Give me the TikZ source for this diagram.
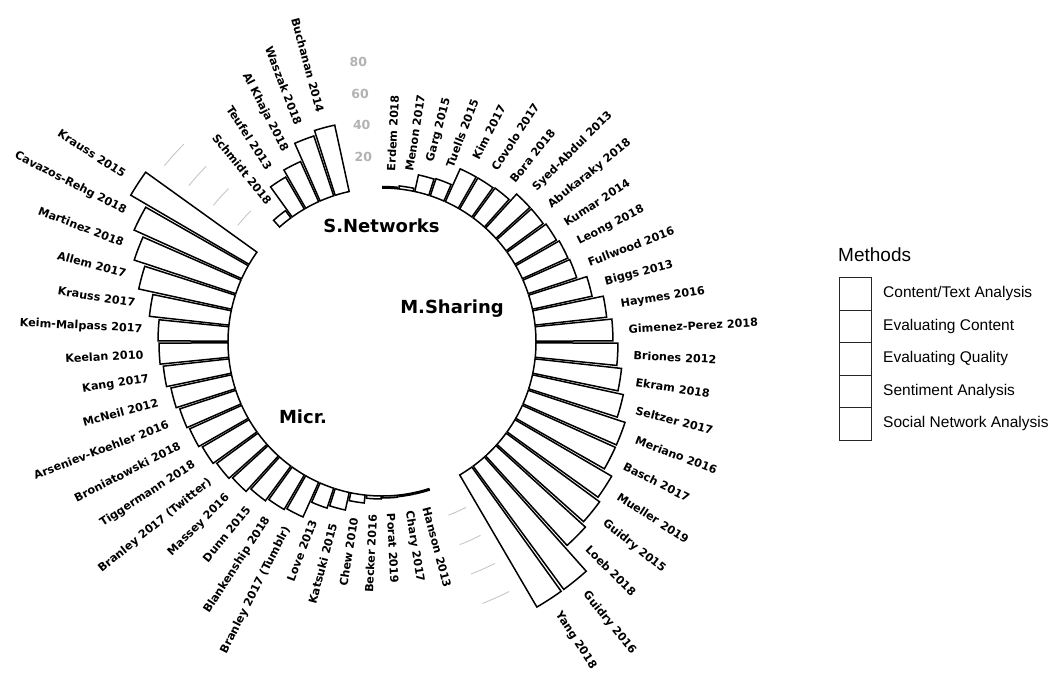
\documentclass[tikz,border=0pt]{standalone}
\usepackage{fontspec}
\newfontfamily\labfont{DejaVu Sans}
\newfontfamily\legfont{Liberation Sans}
\begin{document}
\begin{tikzpicture}[
  bar/.style={draw=black, fill=white, line width=1.5pt},
  lab/.style={font=\labfont\bfseries\fontsize{11.2}{12}\selectfont, inner sep=0pt, text=black},
  grp/.style={font=\labfont\bfseries\fontsize{18}{20}\selectfont, inner sep=0pt},
  val/.style={font=\labfont\bfseries\fontsize{12.5}{14}\selectfont, text=black!30, inner sep=0pt, anchor=east},
  gridln/.style={draw=black!22, line width=0.9pt},
  legbox/.style={draw=black!85, line width=1pt, minimum width=32pt, minimum height=32.5pt, inner sep=0pt, anchor=north west},
  legtxt/.style={font=\legfont\fontsize{15.5}{17}\selectfont, anchor=west, inner sep=0pt}
]
\useasboundingbox (-382pt,-331pt) rectangle (679pt,342pt);
% grid segments and value labels
\foreach \v in {20,40,60,80}{
  \pgfmathsetmacro\gr{154+1.575*\v}
  \draw[gridln] (141:\gr pt) arc[start angle=141, end angle=135, radius=\gr pt];
  \draw[gridln] (-63:\gr pt) arc[start angle=-63, end angle=-69, radius=\gr pt];
  \node[val] (v\v) at (93:\gr pt) {\v};
}
% bars
\foreach \i/\r/\t in {
  1/155.5/Erdem 2018, 2/157/Menon 2017, 3/171/Garg 2015, 4/172/Tuells 2015,
  5/190/Kim 2017, 6/190/Covolo 2017, 7/191/Bora 2018, 8/200/Syed-Abdul 2013,
  9/200/Abukaraky 2018, 10/202/Kumar 2014, 11/204/Leong 2018, 12/205/Fullwood 2016,
  13/215/Biggs 2013, 14/226/Haymes 2016, 15/231/Gimenez-Perez 2018, 16/236/Briones 2012,
  17/241/Ekram 2018, 18/247/Seltzer 2017, 19/256/Meriano 2016, 20/256/Basch 2017,
  21/266/Mueller 2019, 22/270/Guidry 2015, 23/275/Loeb 2018, 24/307/Guidry 2016,
  25/307/Yang 2018,
  28/155.5/Hanson 2013, 29/155.5/Chary 2017, 30/156/Porat 2019, 31/157/Becker 2016,
  32/162/Chew 2010, 33/172/Katsuki 2015, 34/175/Love 2013, 35/192/Branley 2017 (Tumblr),
  36/194/Blankenship 2018, 37/197/Dunn 2015, 38/202/Massey 2016, 39/205/Branley 2017 (Twitter),
  40/208/Tiggermann 2018, 41/211/Broniatowski 2018, 42/213/Arseniev-Koehler 2016, 43/216/McNeil 2012,
  44/220/Kang 2017, 45/223/Keelan 2010, 46/224/Keim-Malpass 2017, 47/234/Krauss 2017,
  48/249/Allem 2017, 49/261/Martinez 2018, 50/272/Cavazos-Rehg 2018, 51/291/Krauss 2015,
  54/163/Schmidt 2018, 55/191/Teufel 2013, 56/198/Al Khaja 2018, 57/217/Waszak 2018,
  58/222/Buchanan 2014}{
  \pgfmathsetmacro\a{93-6*\i}
  \pgfmathsetmacro\aa{\a-2.7}
  \pgfmathsetmacro\ab{\a+2.7}
  \pgfmathsetmacro\rl{\r+15.75}
  \draw[bar] (\aa:154pt) arc[start angle=\aa, end angle=\ab, radius=154pt]
     -- (\ab:\r pt) arc[start angle=\ab, end angle=\aa, radius=\r pt] -- cycle;
  \ifnum\i>30
    \pgfmathsetmacro\rot{\a+180}
    \node[lab, rotate=\rot, anchor=east] (lab\i) at (\a:\rl pt) {\t};
  \else
    \node[lab, rotate=\a, anchor=west] (lab\i) at (\a:\rl pt) {\t};
  \fi
}
% group labels
\node[grp] (gS) at (-0.5pt,116pt) {S.Networks};
\node[grp] (gM) at (70pt,33pt) {M.Sharing};
\node[grp] (gR) at (-79pt,-75pt) {Micr.};
% legend
\node[legtxt] (legT) at (456pt,87pt) {\fontsize{19}{21}\selectfont Methods};
\foreach \k/\y/\t in {1/65/{Content/Text Analysis}, 2/32.5/{Evaluating Content}, 3/0/{Evaluating Quality}, 4/-32.5/{Sentiment Analysis}, 5/-65/{Social Network Analysis}}{
  \node[legbox] (box\k) at (457pt,\y pt) {};
  \node[legtxt] (leg\k) at ([xshift=11pt]box\k.east) {\t};
}
\end{tikzpicture}
\end{document}
